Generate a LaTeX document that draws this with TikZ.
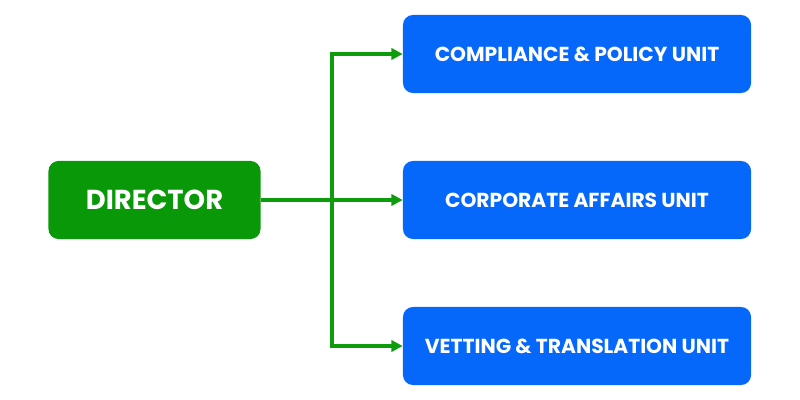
\documentclass[tikz,border=0pt]{standalone}
\usepackage{fontspec}
\setmainfont{Poppins}
\usetikzlibrary{arrows.meta, positioning, calc}

\definecolor{dirgreen}{RGB}{8,152,8}
\definecolor{unitblue}{RGB}{6,104,250}
\definecolor{linkgreen}{RGB}{12,156,12}

\tikzset{
  headbox/.style={fill=dirgreen, rounded corners=0.25cm, minimum width=5.3cm, minimum height=1.95cm, text=white, font=\bfseries\fontsize{19.5}{22}\selectfont},
  unitbox/.style={fill=unitblue, rounded corners=0.25cm, minimum width=8.7cm, minimum height=1.95cm, text=white, font=\bfseries\fontsize{14.4}{17}\selectfont},
  link/.style={draw=linkgreen, line width=2.2pt, -{Triangle[length=8pt, width=8pt]}}
}

\begin{document}
\begin{tikzpicture}[x=0.025cm, y=-0.025cm]
  \useasboundingbox (0,0) rectangle (800,400);

  % boxes
  \node[headbox] (director) at (154.5,200) {DIRECTOR};
  \node[unitbox] (compliance) at (577,54) {COMPLIANCE \& POLICY UNIT};
  \node[unitbox] (corporate) at (577,200) {CORPORATE AFFAIRS UNIT};
  \node[unitbox] (vetting) at (577,346) {VETTING \& TRANSLATION UNIT};

  % connectors
  \coordinate (split) at (332,200);
  \draw[link] (director) -- (corporate);
  \draw[link, line join=miter] (split) |- (compliance.west);
  \draw[link, line join=miter] (split) |- (vetting.west);
\end{tikzpicture}
\end{document}
